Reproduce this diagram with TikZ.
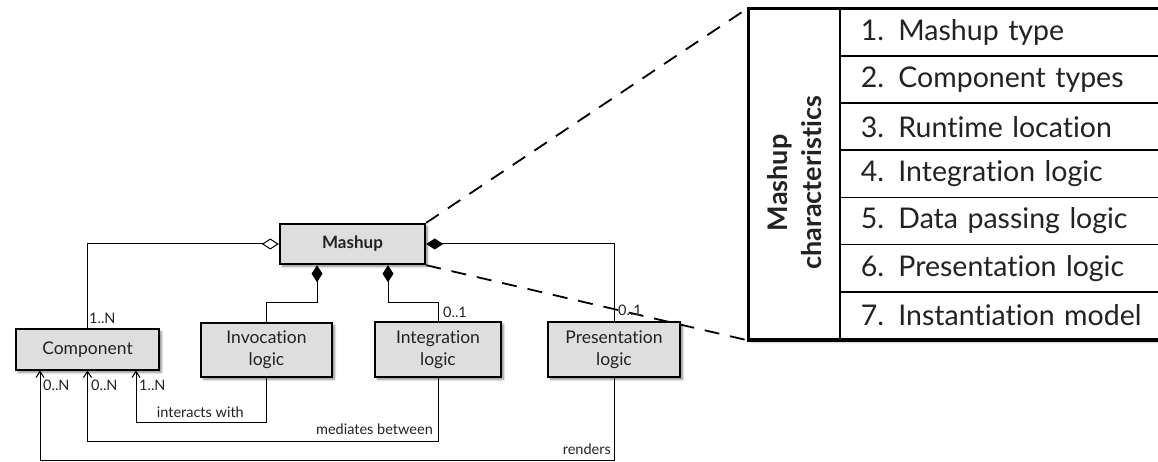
\documentclass[tikz,border=0pt]{standalone}
\usepackage{fontspec}
\setmainfont{Lato}[Ligatures={NoCommon}]
\usetikzlibrary{arrows.meta,calc,shadows.blur}
\definecolor{boxgray}{HTML}{DEDEDE}
\definecolor{ink}{HTML}{222222}

\tikzset{
  softshadow/.style={blur shadow={shadow xshift=2.5pt, shadow yshift=-2.5pt, shadow opacity=45, shadow blur steps=6}},
  umlbox/.style={draw=black, line width=1.2pt, fill=boxgray, align=center, inner sep=0pt,
    text=ink, font=\fontsize{17.5}{22}\selectfont, softshadow},
  rootbox/.style={umlbox, line width=2.4pt, font=\fontsize{17}{21}\selectfont\bfseries},
  lbl/.style={inner sep=0pt, text=ink, font=\fontsize{14.5}{16}\selectfont},
  assoc/.style={draw=black, line width=1pt},
  composite/.style={assoc, -{Diamond[length=17pt, width=11pt]}},
  aggregate/.style={assoc, -{Diamond[open, fill=white, length=17pt, width=11pt]}},
  navig/.style={assoc, -{Straight Barb[length=6pt, width=8pt]}},
  zoomline/.style={draw=black, line width=1.8pt, dash pattern=on 15pt off 11pt},
  tableframe/.style={draw=black, line width=2.4pt, fill=white, inner sep=0pt, softshadow},
  rowbox/.style={draw=black, line width=1.8pt, inner xsep=21pt, inner ysep=0pt,
    minimum height=47.14pt, text width=289pt, align=left, text=ink,
    font=\fontsize{28.5}{31}\selectfont},
}

\begin{document}
\begin{tikzpicture}[x=1pt, y=-1pt]
  \useasboundingbox (0,0) rectangle (1158,462);
  \clip (0,0) rectangle (1158,462);

  % characteristics table
  \node[tableframe, anchor=north west, minimum width=422pt, minimum height=330pt] (table) at (748,8) {};
  \node[draw=black, line width=1.8pt, anchor=north west, minimum width=91pt, minimum height=330pt, inner sep=0pt] (title) at (748,8) {};
  \node[rotate=90, align=center, text=ink, inner sep=0pt, font=\fontsize{27}{34}\selectfont\bfseries] (titletext) at ($(title.center)+(0,9)$) {Mashup\\characteristics};
  \foreach \i/\txt in {1/{1. Mashup type}, 2/{2. Component types}, 3/{3. Runtime location},
                       4/{4. Integration logic}, 5/{5. Data passing logic},
                       6/{6. Presentation logic}, 7/{7. Instantiation model}} {
    \node[rowbox, anchor=north west] (r\i) at (839, {8+(\i-1)*47.14}) {\txt};
  }
  \draw[draw=black, line width=2.4pt] (table.north west) rectangle (table.south east);

  % class diagram
  \node[rootbox, minimum width=145pt, minimum height=40pt] (mashup) at (352.5,244) {Mashup};
  \node[umlbox, minimum width=143pt, minimum height=41pt] (comp) at (87.5,349.5) {Component};
  \node[umlbox, minimum width=131pt, minimum height=54pt] (inv) at (266.5,350) {Invocation\\logic};
  \node[umlbox, minimum width=126pt, minimum height=55pt] (int) at (438,349.5) {Integration\\logic};
  \node[umlbox, minimum width=132pt, minimum height=55pt] (pres) at (614,349.5) {Presentation\\logic};

  % zoom lines from the mashup to its characteristics
  \draw[zoomline] (mashup.north east) -- (table.north west);
  \draw[zoomline] (mashup.south east) -- (table.south west);

  % associations to the mashup
  \draw[aggregate] (comp.north) |- (mashup.west);
  \draw[composite] (pres.north) |- (mashup.east);
  \draw[composite] (inv.north) |- ($(mashup.south)+(-35.5,37)$) -- ($(mashup.south)+(-35.5,0)$);
  \draw[composite] (int.north) |- ($(mashup.south)+(35.5,37)$) -- ($(mashup.south)+(35.5,0)$);

  % navigable associations to components
  \draw[navig] (inv.south) |- ($(comp.south)+(48.5,52)$) -- ($(comp.south)+(48.5,0)$);
  \draw[navig] (int.south) |- ($(comp.south)+(0,71)$) -- (comp.south);
  \draw[navig] (pres.south) |- ($(comp.south)+(-47.5,90)$) -- ($(comp.south)+(-47.5,0)$);

  % multiplicities and role names
  \node[lbl, anchor=west] (m1) at (89,318) {1..N};
  \node[lbl, anchor=west] (m2) at (443,312) {0..1};
  \node[lbl, anchor=west] (m3) at (618,310) {0..1};
  \node[lbl, anchor=west] (m4) at (43,385) {0..N};
  \node[lbl, anchor=west] (m5) at (91,385) {0..N};
  \node[lbl, anchor=west] (m6) at (139,385) {1..N};
  \node[lbl, anchor=east] (n1) at (244,412) {interacts with};
  \node[lbl, anchor=east] (n2) at (433,429) {mediates between};
  \node[lbl, anchor=east] (n3) at (611,449) {renders};
\end{tikzpicture}
\end{document}
